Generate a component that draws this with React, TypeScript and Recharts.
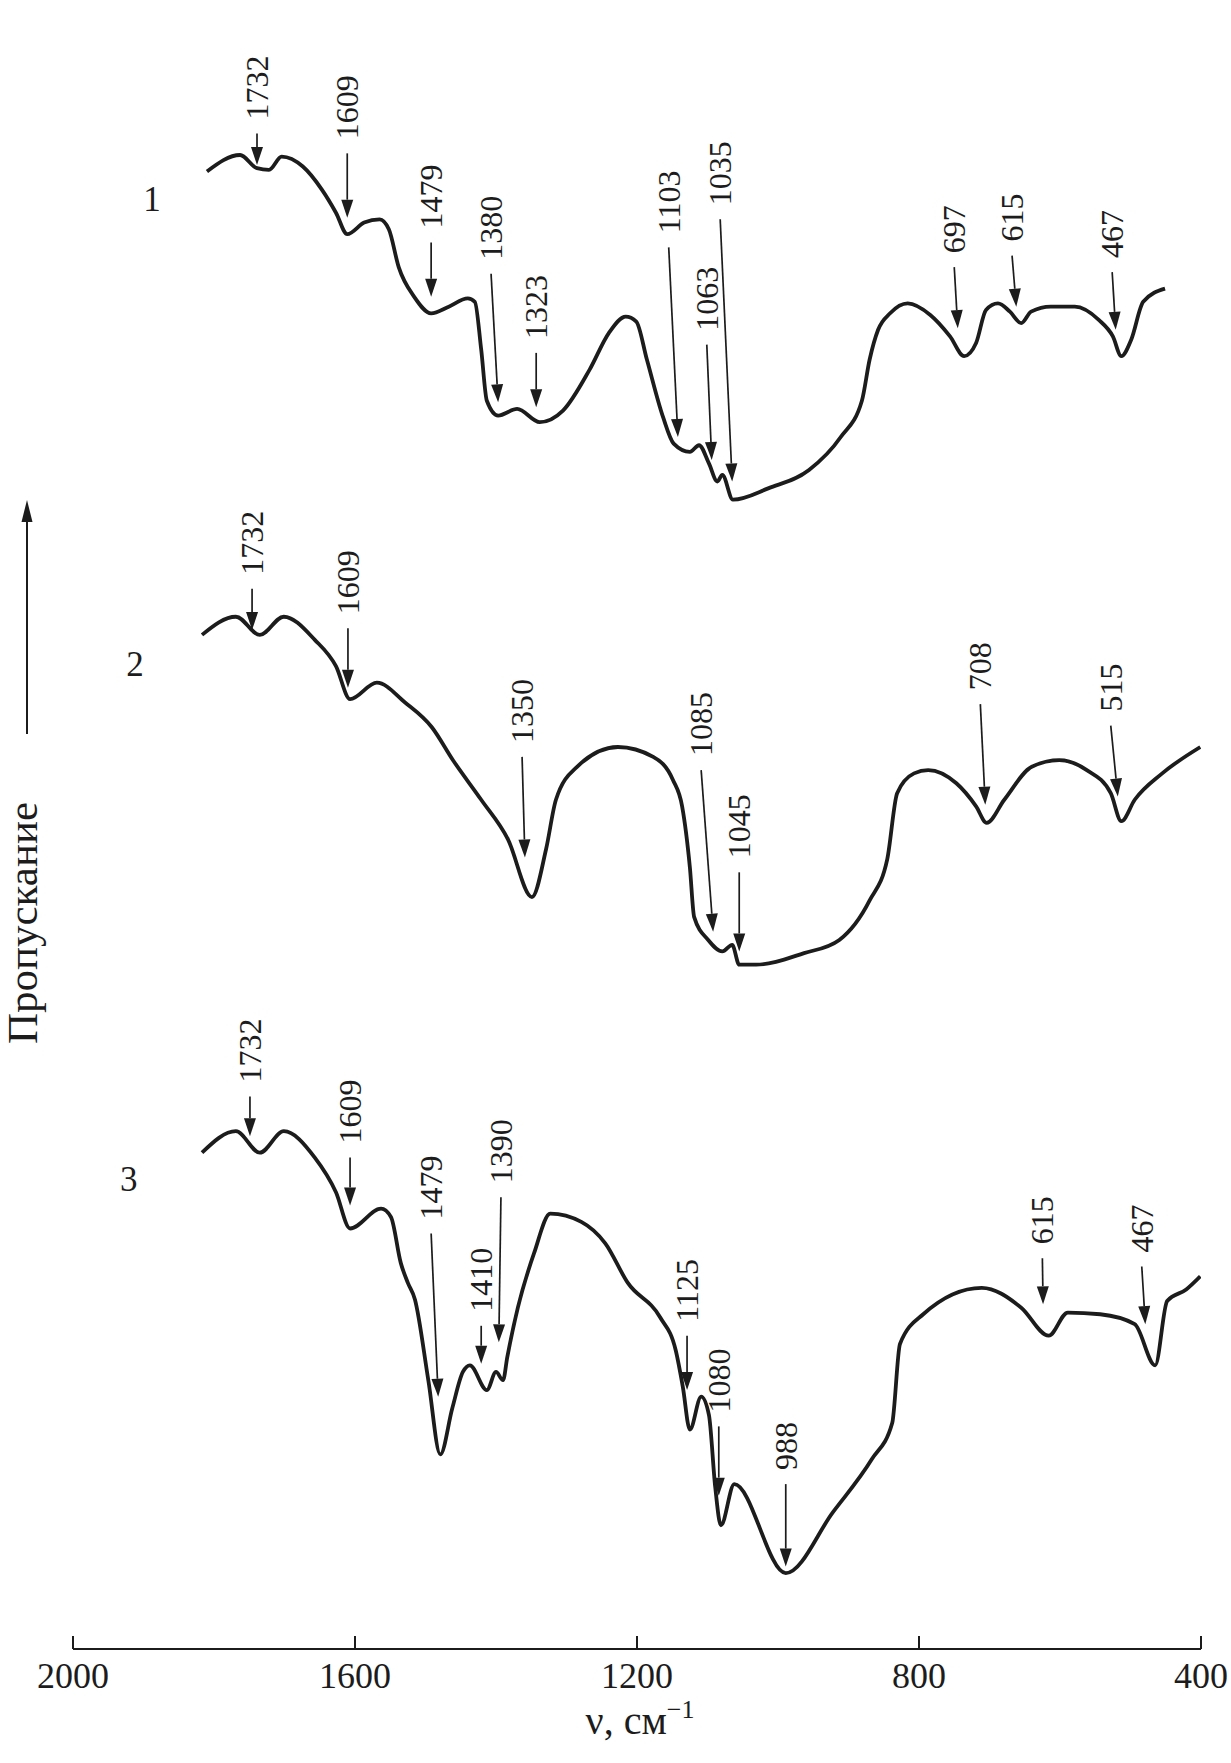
import React from "react";
import { LineChart, Line, XAxis, YAxis, ReferenceLine, ReferenceDot } from "recharts";

const SERIF = "'Liberation Serif', 'Times New Roman', serif";
const INK = "#1c1c1c";

const NU_TICKS = [2000, 1600, 1200, 800, 400];

// spectrum 1
const NU_1 = [1810, 1763, 1739, 1722, 1704, 1674, 1647, 1627, 1611, 1587, 1565, 1552, 1538, 1516, 1492, 1467, 1440, 1430, 1421, 1413, 1397, 1370, 1338, 1305, 1267, 1240, 1216, 1201, 1186, 1163, 1148, 1125, 1112, 1098, 1086, 1079, 1064, 1013, 956, 911, 881, 870, 858, 841, 816, 784, 756, 736, 719, 705, 688, 671, 655, 641, 613, 579, 545, 525, 513, 499, 482, 451];
const T_1 = [89.6, 90.6, 89.8, 89.7, 90.5, 89.9, 88.5, 87.1, 85.8, 86.5, 86.7, 86.1, 83.8, 82.0, 81.0, 81.4, 81.9, 81.7, 78.8, 75.7, 74.8, 75.2, 74.4, 75.1, 77.6, 79.8, 80.8, 80.5, 78.2, 74.7, 73.1, 72.6, 73.0, 71.9, 70.8, 71.2, 69.7, 70.4, 71.5, 73.5, 75.7, 78.2, 80.0, 81.0, 81.6, 80.9, 79.6, 78.4, 79.2, 81.2, 81.6, 81.1, 80.4, 81.1, 81.4, 81.4, 80.6, 79.6, 78.4, 79.4, 81.7, 82.5];

// spectrum 2
const NU_2 = [1817, 1769, 1735, 1701, 1657, 1627, 1607, 1569, 1529, 1491, 1461, 1421, 1383, 1349, 1329, 1315, 1285, 1227, 1177, 1149, 1136, 1125, 1119, 1099, 1079, 1065, 1055, 1031, 963, 913, 870, 845, 831, 807, 787, 747, 719, 704, 679, 640, 601, 562, 528, 513, 494, 455, 401];
const T_2 = [61.5, 62.6, 61.5, 62.6, 61.2, 59.6, 57.6, 58.6, 57.4, 55.9, 53.9, 51.5, 49.1, 45.6, 48.5, 51.5, 53.5, 54.7, 54.1, 52.7, 51.1, 47.4, 44.4, 43.0, 42.3, 42.7, 41.5, 41.5, 42.2, 43.0, 45.4, 47.9, 51.9, 53.1, 53.3, 52.5, 51.1, 50.1, 51.5, 53.5, 53.9, 53.3, 51.9, 50.2, 51.5, 53.1, 54.7];

// spectrum 3
const NU_3 = [1817, 1769, 1735, 1701, 1657, 1627, 1607, 1563, 1549, 1535, 1525, 1515, 1496, 1479, 1462, 1447, 1437, 1413, 1400, 1390, 1384, 1369, 1346, 1323, 1279, 1245, 1213, 1167, 1145, 1135, 1125, 1109, 1098, 1089, 1081, 1062, 989, 922, 867, 838, 827, 794, 711, 655, 616, 589, 543, 494, 465, 448, 421, 401];
const T_3 = [30.1, 31.4, 30.1, 31.4, 29.8, 27.7, 25.5, 26.7, 26.2, 23.4, 22.2, 21.2, 16.3, 11.8, 14.6, 16.8, 17.2, 15.7, 16.8, 16.3, 17.7, 20.7, 24.0, 26.4, 25.9, 24.6, 22.2, 20.1, 18.1, 15.9, 13.3, 15.3, 14.2, 9.8, 7.5, 10.0, 4.6, 8.3, 11.5, 13.7, 18.5, 20.3, 21.9, 20.7, 19.0, 20.4, 20.3, 19.7, 17.2, 21.1, 21.8, 22.6];

// band arrows: label, where the arrow starts and where its tip lands
const LBL_1 = ["1732", "1609", "1479", "1380", "1323", "1103", "1063", "1035", "697", "615", "467"];
const NU_TOP_1 = [1739, 1611, 1492, 1407, 1343, 1155, 1101, 1082, 750, 668, 526];
const T_TOP_1 = [91.9, 90.7, 85.3, 83.4, 78.6, 85.0, 79.1, 86.7, 83.8, 84.5, 83.5];
const NU_TIP_1 = [1739, 1611, 1492, 1397, 1343, 1142, 1094, 1065, 745, 662, 521];
const T_TIP_1 = [90.0, 86.8, 82.0, 75.6, 75.3, 73.5, 72.1, 70.8, 80.1, 81.4, 80.0];

const LBL_2 = ["1732", "1609", "1350", "1085", "1045", "708", "515"];
const NU_TOP_2 = [1746, 1610, 1363, 1109, 1055, 713, 528];
const T_TOP_2 = [64.3, 61.9, 54.1, 53.3, 47.1, 57.3, 56.0];
const NU_TIP_2 = [1746, 1610, 1359, 1092, 1055, 706, 518];
const T_TIP_2 = [61.8, 58.3, 48.0, 43.5, 42.3, 51.2, 51.7];

const LBL_3 = ["1732", "1609", "1479", "1410", "1390", "1125", "1080", "988", "615", "467"];
const NU_TOP_3 = [1749, 1607, 1492, 1421, 1393, 1129, 1084, 989, 625, 484];
const T_TOP_3 = [33.5, 29.8, 25.2, 19.6, 27.4, 19.0, 13.5, 10.0, 23.7, 23.2];
const NU_TIP_3 = [1749, 1607, 1482, 1421, 1396, 1129, 1084, 989, 624, 479];
const T_TIP_3 = [31.1, 26.9, 15.3, 17.3, 18.6, 15.7, 9.3, 5.0, 20.9, 19.7];

// curve numbers
const CURVE_NAMES = ["1", "2", "3"];
const CURVE_NAME_NU = [1888, 1912, 1921];
const CURVE_NAME_T = [87.9, 59.7, 28.5];

const zip = (nu: number[], t: number[]) => nu.map((v, i) => ({ nu: v, t: t[i] }));

const makeArrows = (lbl: string[], nt: number[], tt: number[], np: number[], tp: number[]) =>
  lbl.map((label, i) => ({ label, nuTop: nt[i], tTop: tt[i], nuTip: np[i], tTip: tp[i] }));

const SPECTRA = [
  { data: zip(NU_1, T_1), arrows: makeArrows(LBL_1, NU_TOP_1, T_TOP_1, NU_TIP_1, T_TIP_1) },
  { data: zip(NU_2, T_2), arrows: makeArrows(LBL_2, NU_TOP_2, T_TOP_2, NU_TIP_2, T_TIP_2) },
  { data: zip(NU_3, T_3), arrows: makeArrows(LBL_3, NU_TOP_3, T_TOP_3, NU_TIP_3, T_TIP_3) },
];

function BandArrow(props: any) {
  const { x1, y1, x2, y2, text } = props;
  if (x1 == null || y1 == null) return null;
  const dx = x2 - x1;
  const dy = y2 - y1;
  const len = Math.hypot(dx, dy) || 1;
  const ux = dx / len;
  const uy = dy / len;
  const hl = 18;
  const hw = 6;
  const bx = x2 - ux * hl;
  const by = y2 - uy * hl;
  const head = `${x2},${y2} ${bx - uy * hw},${by + ux * hw} ${bx + uy * hw},${by - ux * hw}`;
  const ty = y1 - 14;
  return (
    <g>
      <line x1={x1} y1={y1} x2={bx} y2={by} stroke={INK} strokeWidth={1.7} />
      <polygon points={head} fill={INK} />
      <text
        x={x1}
        y={ty}
        transform={`rotate(-90 ${x1} ${ty})`}
        fontSize={32}
        fontFamily={SERIF}
        fill={INK}
        dominantBaseline="central"
      >
        {text}
      </text>
    </g>
  );
}

const renderTick = (p: any) => (
  <text x={p.x} y={p.y} dy={52} textAnchor="middle" fontSize={36} fontFamily={SERIF} fill={INK}>
    {p.payload.value}
  </text>
);

export default function App() {
  return (
    <div style={{ position: "absolute", left: 0, top: 0, width: 1231, height: 1763, background: "#fff" }}>
      <LineChart width={1231} height={1763} margin={{ top: 0, right: 30, left: 73, bottom: 54 }}>
        <XAxis
          dataKey="nu"
          type="number"
          domain={[400, 2000]}
          reversed
          ticks={NU_TICKS}
          height={60}
          tickSize={-13}
          tickMargin={0}
          axisLine={{ stroke: INK, strokeWidth: 2 }}
          tickLine={{ stroke: INK, strokeWidth: 2 }}
          tick={renderTick}
          allowDataOverflow
        />
        <YAxis type="number" domain={[0, 100]} hide allowDataOverflow />
        {SPECTRA.map((s, i) => (
          <Line
            key={`s${i}`}
            data={s.data}
            dataKey="t"
            type="monotone"
            stroke={INK}
            strokeWidth={3.8}
            dot={false}
            activeDot={false}
            isAnimationActive={false}
          />
        ))}
        {SPECTRA.flatMap((s, i) =>
          s.arrows.map((a, j) => (
            <ReferenceLine
              key={`a${i}-${j}`}
              segment={[
                { x: a.nuTop, y: a.tTop },
                { x: a.nuTip, y: a.tTip },
              ]}
              ifOverflow="visible"
              shape={(p: any) => <BandArrow {...p} text={a.label} />}
            />
          ))
        )}
        {CURVE_NAMES.map((n, i) => (
          <ReferenceDot
            key={`n${i}`}
            x={CURVE_NAME_NU[i]}
            y={CURVE_NAME_T[i]}
            r={0}
            ifOverflow="visible"
            shape={(p: any) => (
              <text x={p.cx} y={p.cy} textAnchor="middle" dominantBaseline="central" fontSize={35} fontFamily={SERIF} fill={INK}>
                {n}
              </text>
            )}
          />
        ))}
      </LineChart>

      <svg width={80} height={600} style={{ position: "absolute", left: 0, top: 480 }}>
        <line x1={27} y1={254} x2={27} y2={40} stroke={INK} strokeWidth={2} />
        <polygon points="27,20 21.5,42 32.5,42" fill={INK} />
        <text
          x={22}
          y={443}
          transform="rotate(-90 22 443)"
          textAnchor="middle"
          dominantBaseline="central"
          fontSize={43}
          fontFamily={SERIF}
          fill={INK}
        >
          Пропускание
        </text>
      </svg>

      <svg width={300} height={90} style={{ position: "absolute", left: 490, top: 1670 }}>
        <text x={150} y={64} textAnchor="middle" fontSize={40} fontFamily={SERIF} fill={INK}>
          ν, см
          <tspan fontSize={26} dy={-16}>−1</tspan>
        </text>
      </svg>
    </div>
  );
}
